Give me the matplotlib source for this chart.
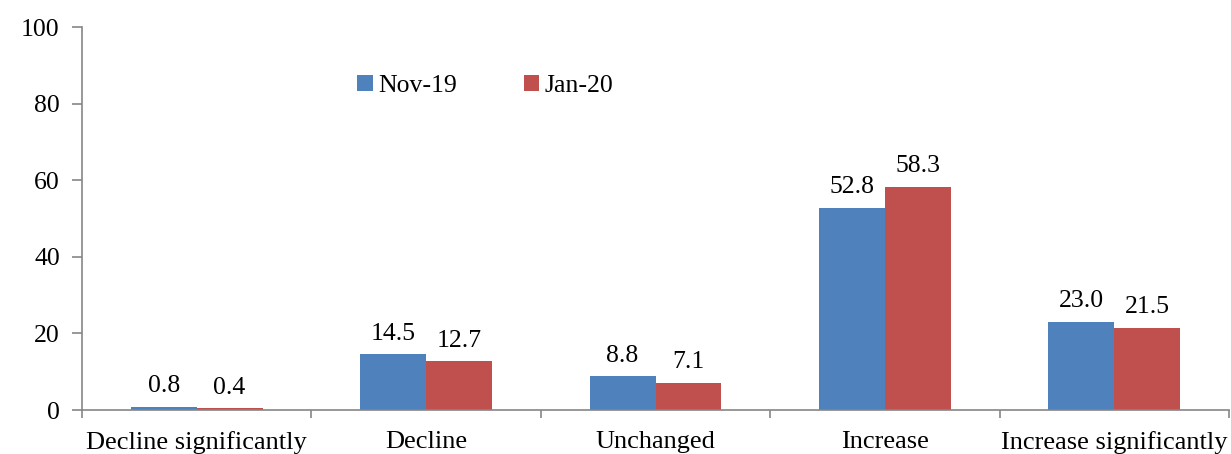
import matplotlib
matplotlib.use("Agg")
import matplotlib.pyplot as plt
import numpy as np

categories = ["Decline significantly", "Decline", "Unchanged", "Increase", "Increase significantly"]
nov19 = [0.8, 14.5, 8.8, 52.8, 23.0]
jan20 = [0.4, 12.7, 7.1, 58.3, 21.5]

plt.rcParams['font.family'] = ['Liberation Serif', 'DejaVu Serif']
fs = 18.5

fig = plt.figure(figsize=(12.31, 4.54), dpi=100)
ax = fig.add_axes([0.0666, 0.0969, 0.9318, 0.8436])

x = np.arange(len(categories))
w = 0.287
b1 = ax.bar(x - w / 2, nov19, w, color='#4F81BD', label='Nov-19')
b2 = ax.bar(x + w / 2, jan20, w, color='#C0504D', label='Jan-20')

# value labels above bars
for bars, vals in ((b1, nov19), (b2, jan20)):
    for r, v in zip(bars, vals):
        ax.text(r.get_x() + r.get_width() / 2, v + 2.5, "%.1f" % v,
                ha='center', va='bottom', fontsize=fs)

ax.set_xlim(-0.5, len(categories) - 0.5)
ax.set_ylim(0, 100)
ax.set_yticks(range(0, 101, 20))
# tick marks between categories, labels at category centres
ax.set_xticks(np.arange(-0.5, len(categories), 1.0))
ax.set_xticklabels([])
ax.set_xticks(x, minor=True)
ax.set_xticklabels(categories, minor=True, fontsize=19)
ax.tick_params(axis='x', which='minor', length=0, pad=15)
ax.tick_params(axis='x', which='major', length=6, color='#868686', width=1.2)
ax.tick_params(axis='y', length=7, color='#868686', width=1.2, labelsize=fs, pad=9)

for s in ('top', 'right'):
    ax.spines[s].set_visible(False)
for s in ('left', 'bottom'):
    ax.spines[s].set_color('#868686')
    ax.spines[s].set_linewidth(1.2)

ax.legend(loc='upper left', bbox_to_anchor=(0.22, 0.935), ncol=2, frameon=False,
          fontsize=fs, handlelength=0.6, handleheight=0.6, handletextpad=0.2,
          columnspacing=2.6)

fig.savefig("out.png", dpi=100)
